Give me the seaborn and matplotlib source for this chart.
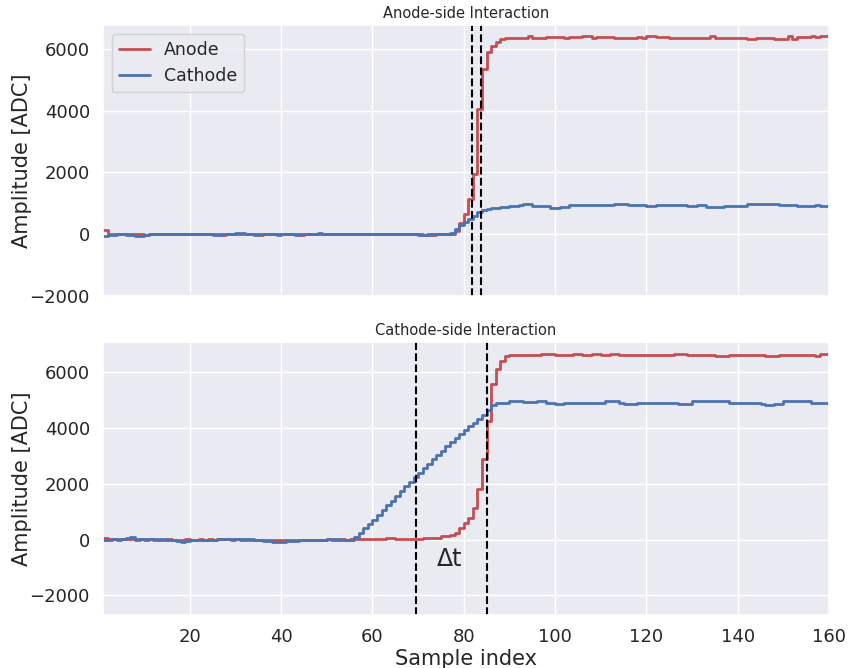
import numpy as np
import pandas as pd
import matplotlib
matplotlib.use("Agg")
import matplotlib.pyplot as plt
import seaborn as sns

sample_index = list(range(1, 161))

top_anode = [
    120, 10, 0, 10, 20, 10, 20, 10, -10, -20,
    0, 10, 20, 0, 10, 0, 10, -10, 0, 10,
    0, 0, 10, 20, 10, 0, -20, 0, 10, 0,
    -10, 0, 10, 0, -20, -10, 10, 0, 10, 0,
    -10, 0, 0, -30, 0, 10, 0, 10, 0, -10,
    0, 10, 20, 0, 10, 0, 10, 0, 20, 0,
    0, -10, 10, 0, 10, 0, 20, 0, -10, 0,
    -20, -10, -20, 0, -10, 0, 20, 110, 350, 660,
    1125, 1960, 4040, 5360, 5890, 6100, 6230, 6320, 6340, 6340,
    6340, 6340, 6340, 6400, 6340, 6340, 6340, 6370, 6370, 6370,
    6370, 6340, 6370, 6370, 6370, 6400, 6400, 6340, 6370, 6370,
    6370, 6370, 6340, 6340, 6340, 6340, 6340, 6370, 6340, 6400,
    6400, 6370, 6370, 6370, 6340, 6360, 6360, 6360, 6360, 6360,
    6360, 6360, 6360, 6420, 6360, 6360, 6360, 6360, 6360, 6360,
    6360, 6320, 6320, 6340, 6340, 6340, 6340, 6320, 6320, 6320,
    6400, 6330, 6370, 6370, 6370, 6420, 6370, 6420, 6420, 6420,
]

top_cathode = [
    -50, -30, -20, -10, 0, -20, -40, -60, -50, -30,
    -10, 0, 10, 20, 10, 0, 0, 0, 10, 0,
    0, -10, -10, 0, -20, -20, 10, 20, 0, 40,
    50, 20, 0, -20, 0, 0, 10, -10, -20, 10,
    20, 0, -20, 0, 0, 0, 10, 30, 20, 0,
    -10, 0, 20, 0, 10, 0, 0, 20, 0, 0,
    10, 0, -10, 0, 10, 0, 0, 10, 0, -20,
    -20, -20, -10, -10, 0, 10, 50, 160, 290, 400,
    500, 590, 720, 780, 830, 860, 860, 880, 890, 915,
    915, 940, 970, 970, 915, 915, 915, 915, 840, 840,
    885, 885, 935, 935, 935, 935, 935, 935, 935, 935,
    935, 935, 970, 970, 970, 935, 935, 935, 935, 900,
    900, 955, 955, 955, 955, 955, 955, 955, 900, 900,
    945, 945, 885, 885, 885, 885, 915, 915, 915, 915,
    915, 985, 985, 985, 985, 985, 985, 985, 935, 935,
    935, 935, 900, 900, 900, 900, 955, 900, 900, 900,
]

bottom_anode = [
    60, 20, 10, 0, 10, 20, 10, 0, 10, 0,
    10, 0, -10, 0, 10, 0, -10, 0, 10, 0,
    0, 10, 0, 10, 0, 10, 20, 10, 0, 10,
    0, -10, 0, -20, -20, -10, -30, -20, -30, -20,
    -20, -10, -30, -10, 0, -10, 0, -20, 0, 10,
    -20, 0, 10, 0, 20, 30, 40, 40, 40, 40,
    40, 40, 50, 60, 40, 40, 40, 40, 40, 40,
    70, 70, 70, 70, 120, 120, 180, 250, 400, 600,
    760, 1120, 1800, 2880, 4240, 5560, 6120, 6400, 6580, 6610,
    6610, 6610, 6610, 6610, 6610, 6610, 6650, 6650, 6650, 6610,
    6610, 6610, 6610, 6650, 6650, 6610, 6610, 6650, 6650, 6610,
    6610, 6650, 6650, 6610, 6610, 6610, 6610, 6610, 6610, 6610,
    6610, 6610, 6610, 6610, 6610, 6650, 6650, 6650, 6610, 6610,
    6610, 6610, 6610, 6610, 6590, 6590, 6590, 6610, 6610, 6610,
    6610, 6610, 6610, 6610, 6610, 6590, 6590, 6590, 6610, 6610,
    6610, 6610, 6610, 6610, 6610, 6610, 6590, 6640, 6640, 6640,
]

bottom_cathode = [
    -30, -20, 40, 40, 40, 60, 80, 40, 40, 40,
    40, 30, 30, 20, 0, -20, -50, -70, -50, 0,
    0, 0, 0, 0, 0, 10, 30, 40, 40, 40,
    40, 30, 20, 0, -20, -40, -60, -70, -70, -70,
    -60, -40, -60, -30, -20, -20, 0, 0, -10, 10,
    10, 20, 0, -30, -10, 100, 240, 400, 560, 720,
    890, 1060, 1230, 1400, 1570, 1740, 1910, 2080, 2250, 2400,
    2560, 2720, 2880, 3040, 3190, 3340, 3490, 3640, 3790, 3930,
    4060, 4190, 4320, 4475, 4650, 4820, 4900, 4910, 4910, 4950,
    4950, 4950, 4940, 4940, 4940, 4960, 4960, 4910, 4910, 4850,
    4850, 4910, 4910, 4910, 4910, 4910, 4910, 4910, 4910, 4910,
    4960, 4960, 4960, 4880, 4850, 4850, 4850, 4880, 4880, 4910,
    4910, 4910, 4910, 4910, 4910, 4910, 4870, 4870, 4870, 4950,
    4950, 4950, 4950, 4950, 4950, 4950, 4950, 4910, 4910, 4910,
    4910, 4910, 4910, 4910, 4870, 4810, 4810, 4870, 4870, 4950,
    4950, 4950, 4950, 4950, 4950, 4910, 4910, 4910, 4910, 4910,
]

top_markers = [81.8, 83.8]
bottom_markers = [69.6, 85.2]
titles = ["Anode-side Interaction", "Cathode-side Interaction"]

sns.set_theme(style="darkgrid", color_codes=True)
plt.rcParams['font.family'] = ['DejaVu Sans']

fig = plt.figure(figsize=(8.48, 6.68), dpi=100)
ax1 = fig.add_axes([0.1215, 0.5569, 0.8561, 0.4057])
ax2 = fig.add_axes([0.1215, 0.0793, 0.8561, 0.4087], sharex=ax1)

red = "#C44E52"
blue = "#4C72B0"

panels = [
    (ax1, top_anode, top_cathode, top_markers, titles[0], (-2000, 6770)),
    (ax2, bottom_anode, bottom_cathode, bottom_markers, titles[1], (-2700, 7080)),
]

for ax, an, ca, marks, title, ylim in panels:
    df = pd.DataFrame({"x": sample_index, "Anode": an, "Cathode": ca})
    sns.lineplot(data=df, x="x", y="Anode", ax=ax, color=red, lw=2,
                 drawstyle="steps-post", label="Anode", estimator=None)
    sns.lineplot(data=df, x="x", y="Cathode", ax=ax, color=blue, lw=2,
                 drawstyle="steps-post", label="Cathode", estimator=None)
    for m in marks:
        ax.axvline(m, color="black", ls="--", lw=1.5)
    ax.set_title(title, fontsize=10.5, pad=5)
    ax.set_ylim(*ylim)
    ax.set_xlim(1, 160)
    ax.set_yticks([-2000, 0, 2000, 4000, 6000])
    ax.set_ylabel("Amplitude [ADC]", fontsize=15, labelpad=-2)
    ax.tick_params(labelsize=13)

ax1.set_xticks([20, 40, 60, 80, 100, 120, 140, 160])
ax1.tick_params(axis="x", labelbottom=False)
ax1.set_xlabel("")
ax1.legend(loc="upper left", fontsize=12.5, framealpha=0.8, handlelength=1.8)
ax2.legend().remove()
ax2.set_xlabel("Sample index", fontsize=15, labelpad=2)
ax2.text(77, -700, "Δt", fontsize=17, ha="center", va="center", color="#262626")

fig.savefig("out.png", dpi=100)
